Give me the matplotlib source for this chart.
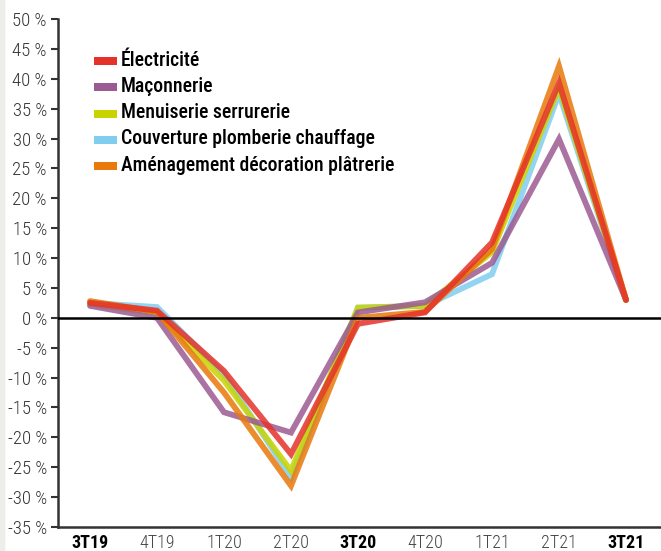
import matplotlib
matplotlib.use("Agg")
import matplotlib.pyplot as plt
from matplotlib.patches import Rectangle, FancyBboxPatch
from matplotlib import font_manager

quarters = ["3T19", "4T19", "1T20", "2T20", "3T20", "4T20", "1T21", "2T21", "3T21"]
bold_quarters = ["3T19", "3T20", "3T21"]

electricite = [2.5, 1.2, -8.9, -22.8, -1.0, 0.9, 12.6, 39.3, 3.0]
maconnerie = [2.0, 0.0, -15.8, -19.2, 0.9, 2.6, 9.2, 29.9, 3.0]
menuiserie = [2.3, 0.8, -10.5, -25.6, 1.7, 2.0, 11.0, 38.5, 3.0]
couverture = [2.5, 1.8, -9.5, -26.7, 1.7, 2.0, 7.3, 37.5, 3.0]
amenagement = [2.8, 1.0, -12.5, -28.1, 0.0, 1.0, 11.5, 42.1, 3.0]

names = ["Électricité", "Maçonnerie", "Menuiserie serrurerie",
         "Couverture plomberie chauffage", "Aménagement décoration plâtrerie"]
colors = ["#e5332a", "#9b5a92", "#c8d400", "#7fcdef", "#e8790a"]
series = [electricite, maconnerie, menuiserie, couverture, amenagement]

yticks = list(range(-35, 51, 5))

avail = {f.name for f in font_manager.fontManager.ttflist}
cands = ["Roboto Condensed", "Archivo Narrow", "PT Sans Narrow", "Fira Sans Condensed", "Liberation Sans"]
fam = [c for c in cands if c in avail][:1] + ["DejaVu Sans"]
plt.rcParams["font.family"] = fam

W, H = 661, 551
fig = plt.figure(figsize=(W/100, H/100), dpi=100, facecolor="#ededea")
bg = FancyBboxPatch((0.008, -0.05), 1.05, 1.1, boxstyle="round,pad=0,rounding_size=0.03",
                    transform=fig.transFigure, facecolor="white", edgecolor="none", zorder=-5)
fig.patches.append(bg)

ax = fig.add_axes([58/W, 1-527/H, 1-58/W, (527-19)/H])
ax.set_zorder(2)
ax.patch.set_alpha(0)
x = list(range(len(quarters)))
order = [3, 2, 1, 4, 0]
for i in order:
    ax.plot(x, series[i], color=colors[i], lw=4.2, alpha=0.85,
            solid_joinstyle="miter", solid_capstyle="round", zorder=3)

ax.axhline(0, color="black", lw=1.8, zorder=4)
ax.set_ylim(-35, 50)
ax.set_xlim((58-90)/67.0, (661-90)/67.0)
ax.set_yticks(yticks)
ax.set_yticklabels([f"{v} %" for v in yticks], fontsize=13.5, color="#333333", fontweight="light")
ax.set_xticks(x)
ax.set_xticklabels(quarters, fontsize=13, color="#444444", fontweight="light")
for lbl in ax.get_xticklabels():
    if lbl.get_text() in bold_quarters:
        lbl.set_fontweight("bold")
        lbl.set_color("black")
ax.tick_params(axis="y", length=5, width=1.5, color="#333333", pad=3)
ax.tick_params(axis="x", length=0, pad=5)
for s in ["top", "right"]:
    ax.spines[s].set_visible(False)
for s in ["left", "bottom"]:
    ax.spines[s].set_linewidth(1.8)
    ax.spines[s].set_color("#333333")

# legend (manual, in figure pixels)
for k, (nm, c) in enumerate(zip(names, colors)):
    yc = 61 + k * 26.3
    fig.patches.append(Rectangle((94/W, 1-(yc+4)/H), 23/W, 8/H, transform=fig.transFigure,
                                 facecolor=c, edgecolor="none", zorder=5))
    fig.text(121/W, 1-(yc-1)/H, nm, fontsize=14.2, fontweight="medium", color="black",
             va="center", ha="left", zorder=5)

fig.savefig("out.png", dpi=100, facecolor=fig.get_facecolor())
